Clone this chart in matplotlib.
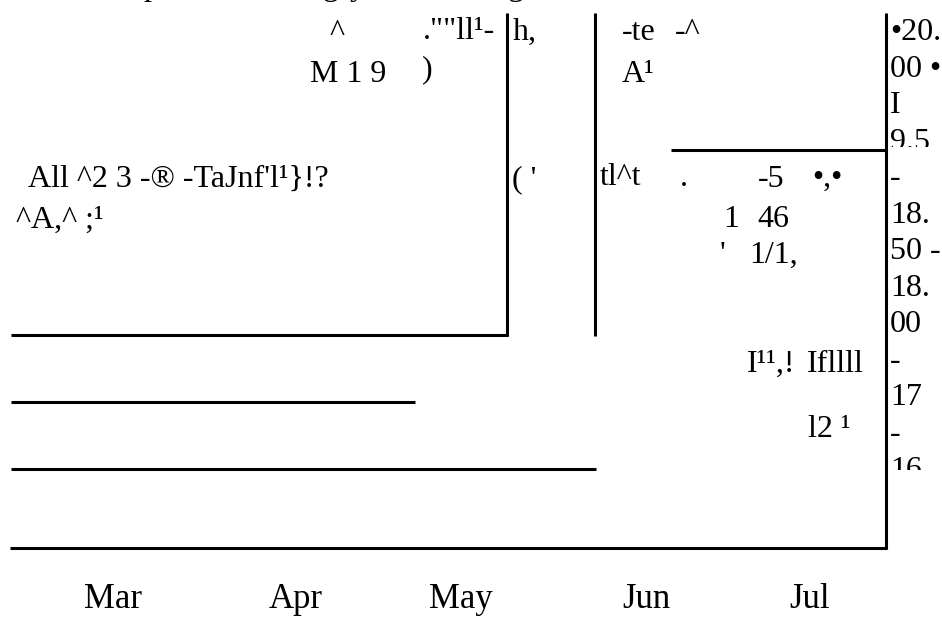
import matplotlib
matplotlib.use("Agg")
import matplotlib.pyplot as plt
from matplotlib.patches import Rectangle

W, H = 942, 630

# x axis labels
months = ["Mar", "Apr", "May", "Jun", "Jul"]

# the right hand scale, broken up line by line as it came out of the scan
scale_bits = ["•20.", "00 •", "I", "9.5", "-", "18.", "50 -",
              "18.", "00", "-", "17", "-", "16"]

# loose scraps of text inside the plot area
scraps = ["^", '.""ll¹-', "h,", "-te", "-^",
          "M 1 9", ")", "A¹",
          "All ^2 3 -® -TaJnf'l¹}!?", "( '", "tl^t", ".", "-5", "•,•",
          "^A,^ ;¹", "1", "46", "'", "1/1,", "I¹¹,!", "Ifllll", "l2 ¹"]

# descenders of a title line that sits just above the top edge
title_tails = ["p", "g", "y", "g"]

# ---- layout (pixels) ----
month_x = [113, 296, 461, 646, 810]
month_y = 608
scale_x = 890
scale_y = [40, 77, 113, 150, 186, 223, 259, 296, 332, 369, 405, 442, 478]
scale_clip = {3: 147, 12: 470}
scrap_xy = [(330, 41), (423, 39), (513, 40), (622, 40), (675, 40),
            (310, 82), (422, 77), (622, 82),
            (28, 187), (512, 187), (600, 185), (680, 186), (758, 187), (812, 186),
            (16, 228), (723, 227), (757, 227), (720, 263), (749, 263),
            (747, 372), (807, 372), (808, 437)]
tail_x = [143, 323, 350, 508]
tail_y = -5

# rules: horizontal (y, x0, x1), vertical (x, y0, y1)
h_rules = [(335, 11, 508), (150, 671, 887), (402, 11, 415),
           (469, 11, 596), (548, 10, 887)]
v_rules = [(507, 13, 336), (595, 13, 336), (886, 13, 549)]

font = "Liberation Serif"
fs = 23

fig = plt.figure(figsize=(W / 100, H / 100), dpi=100)
ax = fig.add_axes([0, 0, 1, 1])
ax.set_xlim(0, W)
ax.set_ylim(H, 0)
ax.axis("off")

lw = 2.2
for y, x0, x1 in h_rules:
    ax.hlines(y, x0, x1, color="black", lw=lw)
for x, y0, y1 in v_rules:
    ax.vlines(x, y0, y1, color="black", lw=lw)

for txt, (x, y) in zip(scraps, scrap_xy):
    ax.text(x, y, txt, family=font, fontsize=fs, ha="left", va="baseline")

for i, (txt, y) in enumerate(zip(scale_bits, scale_y)):
    t = ax.text(scale_x, y, txt, family=font, fontsize=fs, ha="left", va="baseline")
    if i in scale_clip:
        # these two were cut off flat at the bottom in the scan
        clip = Rectangle((0, 0), W, scale_clip[i], transform=ax.transData)
        t.set_clip_on(True)
        t.set_clip_path(clip)

for ch, x in zip(title_tails, tail_x):
    ax.text(x, tail_y, ch, family=font, fontsize=fs, ha="left", va="baseline",
            clip_on=False)

for lab, x in zip(months, month_x):
    ax.text(x, month_y, lab, family=font, fontsize=25, ha="center", va="baseline")

fig.savefig("out.png", dpi=100)
